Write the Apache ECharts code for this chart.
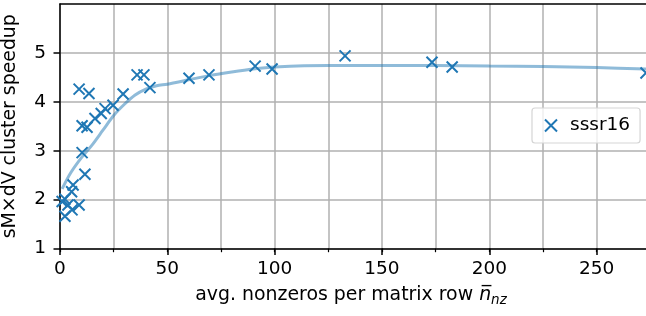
<!DOCTYPE html>
<html>
<head>
<meta charset="utf-8">
<script src="https://cdn.jsdelivr.net/npm/echarts@6/dist/echarts.min.js"></script>
<style>html,body{margin:0;padding:0;background:#fff;}#c{width:646px;height:316px;}</style>
</head>
<body>
<div id="c"></div>
<script>
// measured points (sssr16)
const scatterX = [8.9, 13.5, 10.3, 12.6, 10.3, 11.6, 16.3, 19.2, 21.0, 24.7, 29.4, 35.9, 39.1, 41.9, 60.1, 69.4, 90.9, 98.8, 132.8, 173.3, 182.7, 273.0, 6.1, 5.4, 2.3, 3.7, 8.9, 5.6, 2.3, 1.0];
const scatterY = [4.26, 4.17, 3.51, 3.48, 2.96, 2.52, 3.66, 3.76, 3.86, 3.93, 4.16, 4.55, 4.55, 4.29, 4.48, 4.55, 4.73, 4.67, 4.94, 4.81, 4.71, 4.59, 2.30, 2.16, 2.01, 1.89, 1.89, 1.79, 1.66, 1.96];
// fit curve
const fitX = [1, 5, 10, 15, 20, 25, 30, 35, 40, 45, 50, 60, 70, 80, 90, 100, 125, 150, 175, 200, 225, 250, 273];
const fitY = [2.22, 2.55, 2.86, 3.12, 3.42, 3.72, 3.95, 4.14, 4.26, 4.33, 4.36, 4.45, 4.54, 4.61, 4.67, 4.71, 4.74, 4.74, 4.74, 4.73, 4.72, 4.70, 4.67];
// ticks
const xMajorTicks = [0, 50, 100, 150, 200, 250];
const xGridTicks = [0, 25, 50, 75, 100, 125, 150, 175, 200, 225, 250];
const yTicks = [1, 2, 3, 4, 5];
const seriesName = 'sssr16';

const FONT = 'DejaVu Sans';
const BLUE = '#1f77b4';
const INK = '#000';
const XPATH = 'path://M0,0L10,10M10,0L0,10';

const chart = echarts.init(document.getElementById('c'), null, {renderer: 'canvas'});
const pts = scatterX.map((x, i) => [x, scatterY[i]]);
const fit = fitX.map((x, i) => [x, fitY[i]]);

chart.setOption({
  animation: false,
  grid: {left: 60, right: 0, top: 4, bottom: 67.5, containLabel: false, outerBoundsMode: 'none'},
  xAxis: [
    {
      type: 'value', min: 0, max: 273, position: 'bottom',
      axisLine: {show: true, lineStyle: {color: INK, width: 1.5}},
      axisTick: {show: true, customValues: xGridTicks, length: 3.7, lineStyle: {color: INK, width: 1.2}},
      axisLabel: {show: false},
      splitLine: {show: true, lineStyle: {color: '#b0b0b0', width: 1.5}},
      name: 'avg. nonzeros per matrix row {n|n\u0305}{s|nz}',
      nameLocation: 'middle', nameGap: 35,
      nameTextStyle: {
        fontFamily: FONT, fontSize: 18.9, color: INK, lineHeight: 24, padding: [0, 4, 0, 0],
        rich: {
          n: {fontFamily: FONT, fontSize: 18.9, fontStyle: 'italic', color: INK, lineHeight: 24},
          s: {fontFamily: FONT, fontSize: 13.5, fontStyle: 'italic', color: INK, lineHeight: 13, verticalAlign: 'bottom'}
        }
      }
    },
    {
      type: 'value', min: 0, max: 273, position: 'bottom', offset: 0,
      axisLine: {show: false},
      axisTick: {show: true, customValues: xMajorTicks, length: 6.5, lineStyle: {color: INK, width: 1.5}},
      axisLabel: {show: true, customValues: xMajorTicks, margin: 11, fontFamily: FONT, fontSize: 18.5, color: INK},
      splitLine: {show: false}
    },
    {
      type: 'value', min: 0, max: 273, position: 'top', z: 5,
      axisLine: {show: true, lineStyle: {color: INK, width: 1.5}},
      axisTick: {show: false}, axisLabel: {show: false}, splitLine: {show: false}
    }
  ],
  yAxis: {
    type: 'value', min: 1, max: 6,
    axisLine: {show: true, lineStyle: {color: INK, width: 1.5}},
    axisTick: {show: true, customValues: yTicks, length: 6.5, lineStyle: {color: INK, width: 1.5}},
    axisLabel: {show: true, customValues: yTicks, margin: 14, fontFamily: FONT, fontSize: 18.5, color: INK},
    splitLine: {show: true, lineStyle: {color: '#b0b0b0', width: 1.5}},
    name: 'sM\u00d7dV cluster speedup',
    nameLocation: 'middle', nameGap: 40, nameRotate: 90,
    nameTextStyle: {fontFamily: FONT, fontSize: 18.9, color: INK}
  },
  legend: {
    data: [{name: seriesName, icon: XPATH}],
    left: 532, top: 108,
    padding: [8, 10, 8, 12],
    itemWidth: 12, itemHeight: 12,
    backgroundColor: 'rgba(255,255,255,0.8)',
    borderColor: '#d5d5d5', borderWidth: 1.2, borderRadius: 3,
    itemStyle: {color: 'rgba(0,0,0,0)', borderColor: BLUE, borderWidth: 2},
    textStyle: {fontFamily: FONT, fontSize: 18.5, color: INK, padding: [0, 0, 0, 8]}
  },
  series: [
    {
      name: 'fit', type: 'line', data: fit, smooth: 0.3, showSymbol: false, silent: true,
      xAxisIndex: 0, z: 1,
      lineStyle: {color: BLUE, opacity: 0.5, width: 3}
    },
    {
      name: seriesName, type: 'scatter', data: pts, xAxisIndex: 0, z: 3,
      symbol: XPATH, symbolSize: 11,
      itemStyle: {color: 'rgba(0,0,0,0)', borderColor: BLUE, borderWidth: 2, opacity: 1}
    }
  ]
});
</script>
</body>
</html>
